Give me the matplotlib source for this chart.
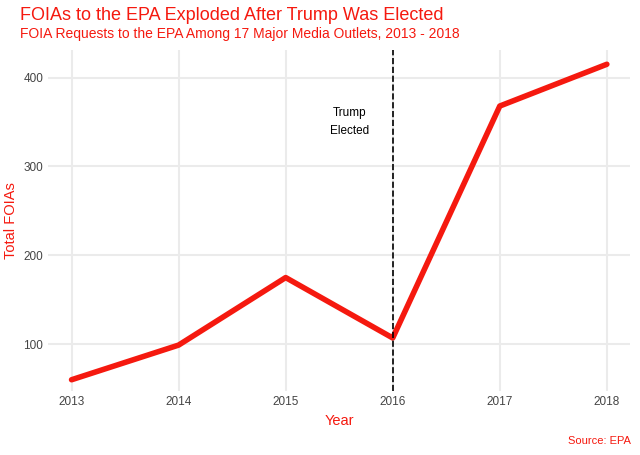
import matplotlib.pyplot as plt

plt.rcParams['font.family'] = ['Liberation Sans', 'DejaVu Sans']

years = [2013, 2014, 2015, 2016, 2017, 2018]
foias = [60, 99, 175, 107, 368, 415]
red = "#f5190f"

fig = plt.figure(figsize=(6.4, 4.55), dpi=100)
ax = fig.add_axes([0.075, 0.14, 0.91, 0.75])
ax.plot(years, foias, color=red, linewidth=4, solid_capstyle="round")
ax.axvline(2016, color="black", linestyle="--", linewidth=1.2)
ax.text(2015.6, 350, "Trump\nElected", ha="center", va="center", fontsize=8.5, linespacing=1.6)

ax.set_xlim(2012.78, 2018.22)
ax.set_ylim(47, 431)
ax.set_yticks([100, 200, 300, 400])
ax.set_xticks(years)
ax.grid(True, color="#ebebeb", linewidth=1.5)
ax.set_axisbelow(True)
for s in ax.spines.values():
    s.set_visible(False)
ax.tick_params(length=0, labelsize=8.5, colors="#444444")
ax.set_xlabel("Year", color=red, fontsize=10.5)
ax.set_ylabel("Total FOIAs", color=red, fontsize=10.5)

fig.text(0.031, 0.965, "FOIAs to the EPA Exploded After Trump Was Elected", color=red, fontsize=13, va="center")
fig.text(0.031, 0.925, "FOIA Requests to the EPA Among 17 Major Media Outlets, 2013 - 2018", color=red, fontsize=10, va="center")
fig.text(0.985, 0.03, "Source: EPA", color=red, fontsize=8, ha="right", va="center")

fig.savefig("out.png")
